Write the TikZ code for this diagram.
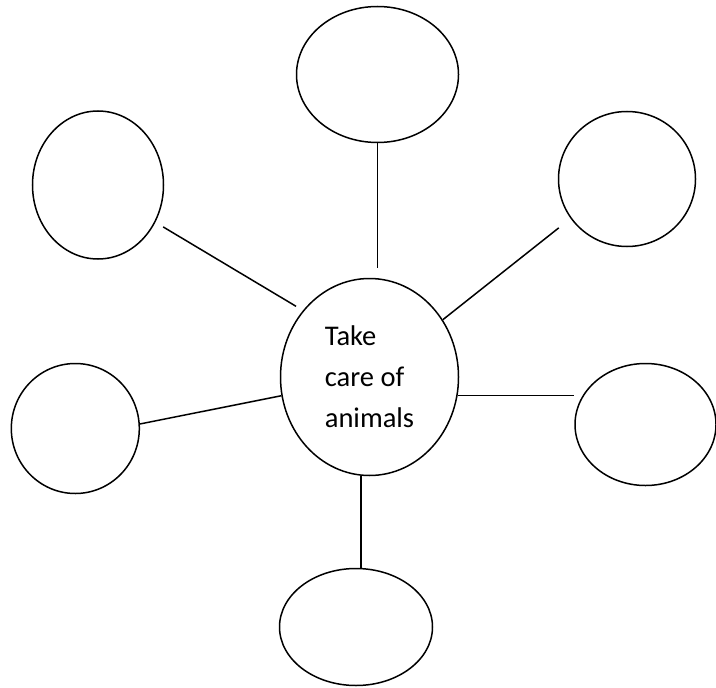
\documentclass[tikz,border=0pt]{standalone}
\usepackage{fontspec}
\setmainfont{Carlito}
\usetikzlibrary{shapes.geometric}
\begin{document}
\begin{tikzpicture}[x=1bp,y=-1bp,
  bubble/.style={ellipse,draw=black,line width=1.5bp,inner sep=0pt},
  link/.style={draw=black,line width=1.5bp}]
\useasboundingbox (0,0) rectangle (716,688);
\node[bubble,minimum width=178bp,minimum height=197bp,align=left,
      font=\fontsize{28.5bp}{41bp}\selectfont] (c) at (369.5,377) {Take\\care of\\animals};
\node[bubble,minimum width=162bp,minimum height=136bp] (t) at (377.5,74.5) {};
\node[bubble,minimum width=131bp,minimum height=148bp] (lt) at (98,185) {};
\node[bubble,minimum width=137bp,minimum height=135bp] (rt) at (627,179) {};
\node[bubble,minimum width=128bp,minimum height=130bp] (l) at (75.3,428.5) {};
\node[bubble,minimum width=141bp,minimum height=122bp] (r) at (645.5,424.5) {};
\node[bubble,minimum width=153bp,minimum height=117bp] (b) at (356,627) {};
\draw[link,shorten >=10bp] (t.south) -- (t.south |- c.north);
\draw[link,shorten <=9bp,shorten >=8bp] (lt.-33.5) -- (c.135);
\draw[link,shorten <=15bp] (rt.215) -- (c.38);
\draw[link] (l.4.8) -- (c.192.6);
\draw[link] (c.-12.7) -- (c.-12.7 -| r.west);
\draw[link] (c.-95) -- (c.-95 |- b.north);
\end{tikzpicture}
\end{document}
